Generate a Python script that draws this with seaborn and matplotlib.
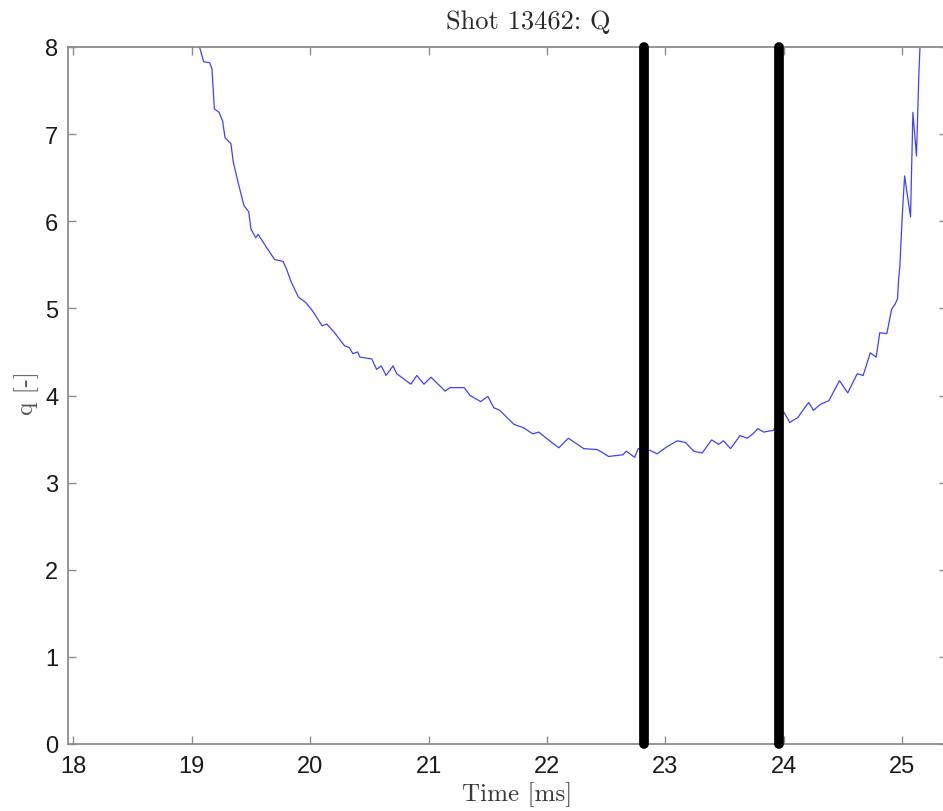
import matplotlib
matplotlib.use("Agg")
import matplotlib.pyplot as plt
import seaborn as sns
import pandas as pd

# ---- data ----
time_ms = [19.065, 19.10, 19.15, 19.17, 19.19, 19.23, 19.26, 19.28, 19.33, 19.35,
           19.39, 19.44, 19.48, 19.50, 19.54, 19.56, 19.63, 19.70, 19.77, 19.80,
           19.84, 19.90, 19.96, 20.02, 20.10, 20.14, 20.20, 20.29, 20.33, 20.36,
           20.40, 20.42, 20.52, 20.56, 20.60, 20.64, 20.70, 20.73, 20.85, 20.90,
           20.96, 21.02, 21.14, 21.18, 21.30, 21.35, 21.44, 21.50, 21.55, 21.60,
           21.72, 21.80, 21.88, 21.93, 22.04, 22.10, 22.18, 22.31, 22.42, 22.45,
           22.52, 22.64, 22.67, 22.74, 22.77, 22.87, 22.93, 23.01, 23.10, 23.17,
           23.24, 23.31, 23.39, 23.45, 23.49, 23.55, 23.63, 23.69, 23.74, 23.78,
           23.83, 23.91, 24.00, 24.05, 24.12, 24.15, 24.21, 24.25, 24.31, 24.38,
           24.47, 24.54, 24.62, 24.67, 24.73, 24.78, 24.81, 24.87, 24.91, 24.94,
           24.96, 24.97, 24.98, 25.00, 25.02, 25.07, 25.09, 25.12, 25.14, 25.15]
q_values = [8.00, 7.83, 7.82, 7.75, 7.29, 7.25, 7.15, 6.96, 6.89, 6.68,
            6.45, 6.18, 6.11, 5.91, 5.81, 5.85, 5.70, 5.56, 5.54, 5.45,
            5.30, 5.13, 5.07, 4.97, 4.80, 4.82, 4.73, 4.57, 4.55, 4.48,
            4.50, 4.44, 4.42, 4.30, 4.34, 4.23, 4.34, 4.25, 4.13, 4.23,
            4.13, 4.21, 4.05, 4.09, 4.09, 4.00, 3.93, 3.99, 3.86, 3.83,
            3.67, 3.63, 3.56, 3.58, 3.46, 3.40, 3.51, 3.39, 3.38, 3.36,
            3.30, 3.32, 3.36, 3.29, 3.39, 3.37, 3.33, 3.41, 3.48, 3.46,
            3.36, 3.34, 3.49, 3.44, 3.48, 3.39, 3.54, 3.51, 3.56, 3.62,
            3.58, 3.60, 3.81, 3.69, 3.75, 3.81, 3.92, 3.83, 3.90, 3.94,
            4.17, 4.03, 4.25, 4.23, 4.49, 4.44, 4.72, 4.71, 4.99, 5.05,
            5.11, 5.34, 5.49, 6.06, 6.52, 6.05, 7.25, 6.75, 7.67, 8.00]
marker_times = [22.82, 23.96]
x_ticks = [18, 19, 20, 21, 22, 23, 24, 25]
y_ticks = [0, 1, 2, 3, 4, 5, 6, 7, 8]
title_text = "Shot 13462: Q"
x_label = "Time [ms]"
y_label = "q [-]"

df = pd.DataFrame({"time": time_ms, "q": q_values})

sns.set_style("white")
plt.rcParams["font.family"] = ["Liberation Sans", "DejaVu Sans"]

W, H = 943, 812
fig = plt.figure(figsize=(W / 100, H / 100), dpi=100)
ax_left, ax_right = 68 / W, 947 / W
ax_bottom, ax_top = 1 - 745 / H, 1 - 48 / H
ax = fig.add_axes([ax_left, ax_bottom, ax_right - ax_left, ax_top - ax_bottom])

sns.lineplot(data=df, x="time", y="q", ax=ax, color="#4040ff", linewidth=0.9,
             estimator=None, sort=False)

for t in marker_times:
    ax.plot([t, t], [0, 8], color="black", linewidth=7, solid_capstyle="round",
            clip_on=False, zorder=5)

ax.set_xlim(17.954, 25.378)
ax.set_ylim(0, 8)
ax.set_xticks(x_ticks)
ax.set_yticks(y_ticks)
ax.set_xticklabels([str(v) for v in x_ticks])
ax.set_yticklabels([str(v) for v in y_ticks])
ax.set_xlabel("")
ax.set_ylabel("")

spine_col = "#8c8c8c"
for s in ax.spines.values():
    s.set_visible(True)
    s.set_color(spine_col)
    s.set_linewidth(1.3)

ax.tick_params(axis="both", which="both", direction="in", length=6, width=1,
               color=spine_col, labelsize=17, labelcolor="#1a1a1a",
               top=True, right=True, bottom=True, left=True)
ax.tick_params(axis="x", pad=8)
ax.tick_params(axis="y", pad=7)

serif = ["cmr10", "DejaVu Serif"]
fig.text(528 / W, 1 - 22 / H, title_text, ha="center", va="center",
         fontsize=19, family=serif, color="#2a2a2a")
fig.text(517 / W, 1 - 795 / H, x_label, ha="center", va="center",
         fontsize=18, family=serif, color="#3a3a3a")
fig.text(27 / W, 1 - 393 / H, y_label, ha="center", va="center", rotation=90,
         fontsize=18, family=serif, color="#555555")

fig.savefig("out.png", dpi=100)
